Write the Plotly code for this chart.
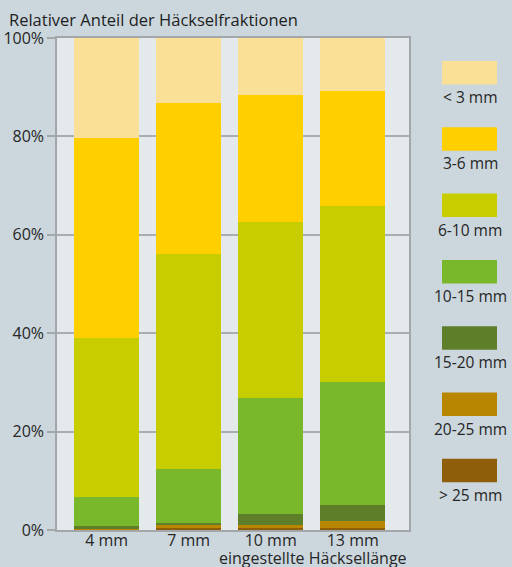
import plotly.graph_objects as go

categories = ["4 mm", "7 mm", "10 mm", "13 mm"]
series_names = ["> 25 mm", "20-25 mm", "15-20 mm", "10-15 mm", "6-10 mm", "3-6 mm", "< 3 mm"]
v_gt25 = [0.2, 0.5, 0.6, 0.5]
v_20_25 = [0.2, 0.6, 0.4, 1.4]
v_15_20 = [0.4, 0.4, 2.2, 3.1]
v_10_15 = [5.9, 11.0, 23.6, 25.0]
v_6_10 = [32.4, 43.6, 35.8, 35.8]
v_3_6 = [40.5, 30.7, 25.8, 23.5]
v_lt3 = [20.4, 13.2, 11.6, 10.7]
series_values = [v_gt25, v_20_25, v_15_20, v_10_15, v_6_10, v_3_6, v_lt3]
colors = ["#8e5e0a", "#b88600", "#5e7e2a", "#78b82a", "#c8cd00", "#ffcf00", "#fae096"]
y_ticks = [0, 20, 40, 60, 80, 100]
y_ticktext = ["0%", "20%", "40%", "60%", "80%", "100%"]

W, H = 512, 567
ML, MR, MT, MB = 57, 103, 38, 37
FONT = "Open Sans"
TXT = "#262626"

fig = go.Figure()
for name, vals, col in zip(series_names, series_values, colors):
    fig.add_trace(go.Bar(x=categories, y=vals, name=name, marker_color=col,
                         marker_line_width=0, width=0.79, showlegend=False))

def px_x(px):
    return (px - ML) / (W - ML - MR)

def px_y(py):
    return (H - MB - py) / (H - MT - MB)

shapes = []
annotations = []
# legend (top to bottom: < 3 mm ... > 25 mm)
for i, (name, col) in enumerate(zip(series_names[::-1], colors[::-1])):
    top = 61 + i * 66.3
    shapes.append(dict(type="rect", xref="paper", yref="paper",
                       x0=px_x(442), x1=px_x(497), y0=px_y(top + 23.5), y1=px_y(top),
                       fillcolor=col, line_width=0, layer="above"))
    annotations.append(dict(xref="paper", yref="paper", x=px_x(470), y=px_y(top + 36),
                            text=name, showarrow=False, xanchor="center", yanchor="middle",
                            font=dict(family=FONT, size=15.5, color=TXT)))

annotations.append(dict(xref="paper", yref="paper", x=px_x(7), y=px_y(19),
                        text="Relativer Anteil der Häckselfraktionen", showarrow=False,
                        xanchor="left", yanchor="middle",
                        font=dict(family=FONT, size=16.5, color="#1e1e1e", weight=500)))
annotations.append(dict(xref="paper", yref="paper", x=px_x(409), y=px_y(558),
                        text="eingestellte Häcksellänge", showarrow=False,
                        xanchor="right", yanchor="middle",
                        font=dict(family=FONT, size=16, color=TXT)))

fig.update_layout(
    barmode="stack",
    width=W, height=H,
    margin=dict(l=ML, r=MR, t=MT, b=MB),
    paper_bgcolor="#cbd6dd",
    plot_bgcolor="#e4e9ec",
    shapes=shapes,
    annotations=annotations,
    showlegend=False,
    font=dict(family=FONT, size=15, color=TXT),
)
fig.update_xaxes(range=[-0.605, 3.686], showline=True, mirror=True, linecolor="#a3a7aa",
                 linewidth=1.5, ticks="", showgrid=False, ticklabelstandoff=-5, automargin=False,
                 tickfont=dict(family=FONT, size=16, color=TXT))
fig.update_yaxes(range=[0, 100], tickvals=y_ticks, ticktext=y_ticktext, showline=True, mirror=True,
                 linecolor="#a3a7aa", linewidth=1.5, ticks="outside", ticklen=8,
                 tickcolor="#a3a7aa", tickwidth=1.5, showgrid=True, gridcolor="#a9adb0",
                 gridwidth=1.5, zeroline=False, automargin=False,
                 tickfont=dict(family=FONT, size=16, color=TXT))

fig.write_html("out.html")
